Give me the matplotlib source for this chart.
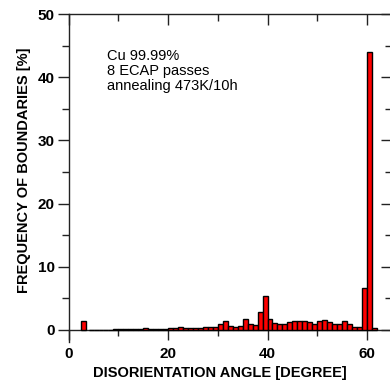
import matplotlib
matplotlib.use("Agg")
import matplotlib.pyplot as plt
from matplotlib.ticker import MultipleLocator

plt.rcParams['font.family'] = ['Liberation Sans', 'DejaVu Sans']

# Bin centres (degrees) and frequency of boundaries (%)
angles = [3.0] + [k + 0.5 for k in range(4, 62)]
freq = [1.4,
        0.0, 0.0, 0.0, 0.05, 0.05, 0.1,            # 4-9
        0.2, 0.1, 0.1, 0.15, 0.1, 0.25, 0.15, 0.15, 0.2, 0.2,   # 10-19
        0.25, 0.3, 0.4, 0.3, 0.3, 0.35, 0.35, 0.4, 0.45, 0.5,   # 20-29
        0.95, 1.5, 0.6, 0.5, 0.6, 1.7, 1.0, 0.8, 2.9, 5.4,      # 30-39
        1.7, 1.05, 0.95, 0.95, 1.25, 1.4, 1.4, 1.4, 1.3, 0.95,  # 40-49
        1.35, 1.6, 1.3, 0.95, 0.95, 1.35, 0.95, 0.5, 0.5, 6.6,  # 50-59
        44.0, 0.35]                                             # 60-61

annotation = "Cu 99.99%\n8 ECAP passes\nannealing 473K/10h"
xlabel = "DISORIENTATION ANGLE [DEGREE]"
ylabel = "FREQUENCY OF BOUNDARIES [%]"

fig = plt.figure(figsize=(3.90, 3.87), dpi=100)
ax = fig.add_axes([68.7/390, 1-342/387, (65*4.97)/390, (342-14)/387])

ax.bar(angles, freq, width=1.0, color='#ff0000', edgecolor='black', linewidth=1.0, zorder=3)

ax.set_xlim(0, 65)
ax.set_ylim(-1.9, 50)
ax.spines['bottom'].set_position(('data', 0))
for s in ax.spines.values():
    s.set_linewidth(1.0)
    s.set_color('#222222')

ax.xaxis.set_major_locator(MultipleLocator(20))
ax.xaxis.set_minor_locator(MultipleLocator(10))
ax.yaxis.set_major_locator(MultipleLocator(10))
ax.yaxis.set_minor_locator(MultipleLocator(5))

ax.tick_params(axis='y', which='major', length=8, width=1.0, direction='out',
               labelsize=11, pad=2, color='#222222')
ax.tick_params(axis='y', which='minor', length=5, width=1.0, direction='out', color='#222222')
ax.tick_params(axis='x', which='major', length=7.5, width=1.0, direction='out',
               labelsize=11, pad=5, color='#222222')
ax.tick_params(axis='x', which='minor', length=4.5, width=1.0, direction='out', color='#222222')
ax.tick_params(top=False, right=False, which='both')

for lab in ax.get_xticklabels() + ax.get_yticklabels():
    lab.set_fontweight('bold')

# top and right ticks pointing inward
secx = ax.secondary_xaxis('top')
secx.xaxis.set_major_locator(MultipleLocator(20))
secx.xaxis.set_minor_locator(MultipleLocator(10))
secx.tick_params(which='major', direction='in', length=8, width=1.0, labeltop=False, color='#222222')
secx.tick_params(which='minor', direction='in', length=5, width=1.0, color='#222222')
secx.spines['top'].set_visible(False)
secy = ax.secondary_yaxis('right')
secy.yaxis.set_major_locator(MultipleLocator(10))
secy.yaxis.set_minor_locator(MultipleLocator(5))
secy.tick_params(which='major', direction='in', length=8, width=1.0, labelright=False, color='#222222')
secy.tick_params(which='minor', direction='in', length=5, width=1.0, color='#222222')
secy.spines['right'].set_visible(False)

ax.set_xlabel(xlabel, fontsize=10.5, fontweight='bold', labelpad=3)
ax.xaxis.label.set_x((220 - 68.7) / (65 * 4.97))
ax.set_ylabel(ylabel, fontsize=10.5, fontweight='bold', labelpad=5)
ax.yaxis.label.set_y((342 - 170) / 328)

ax.text(107/390, 1-49/387, annotation, transform=fig.transFigure, fontsize=10.5,
        va='top', ha='left', linespacing=1.1)

fig.savefig("out.png", dpi=100)
